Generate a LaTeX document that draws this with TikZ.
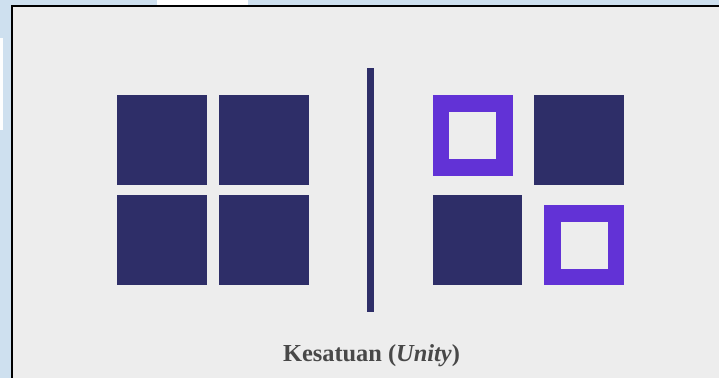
\documentclass[tikz,border=0pt]{standalone}
\usepackage{fontspec}
\setmainfont{Liberation Serif}
\definecolor{unityPage}{RGB}{206,224,239}
\definecolor{unityPanel}{RGB}{237,237,237}
\definecolor{unityNavy}{RGB}{46,46,104}
\definecolor{unityViolet}{RGB}{98,50,214}
\definecolor{unityText}{RGB}{72,72,72}
\begin{document}
\begin{tikzpicture}[x=1pt,y=-1pt,
      block/.style={fill=unityNavy},
      frame/.style={fill=unityViolet},
      hole/.style={fill=unityPanel},
      caption/.style={font=\fontsize{24.4}{28}\selectfont\bfseries,
        text=unityText, anchor=base}]
      \useasboundingbox (0,0) rectangle (719,378);
      \fill[unityPage] (0,0) rectangle (719,378);
      \fill[white] (157,0) rectangle (248,5);
      \fill[white!96!unityPage] (0,38) rectangle (2.5,130);
      \fill[black] (11,5) rectangle (719,378);
      \fill[unityPanel] (13.3,7.3) rectangle (719,378);

      % left: four equal blocks
      \foreach \bx in {117,219}{
        \foreach \by in {95,195}{
          \path[block] (\bx,\by) rectangle ++(90,90);}}

      \fill[unityNavy] (367.3,68) rectangle (374,312);

      % right: mixed blocks
      \path[frame] (432.5,94.5) rectangle (512.5,175.5);
      \path[hole] (449.3,111.5) rectangle (496,159);
      \path[block] (534,95.3) rectangle (624,185.3);
      \path[block] (432.5,195) rectangle (522.3,285);
      \path[frame] (544,205) rectangle (624,285);
      \path[hole] (560.5,221.7) rectangle (607.7,269);

      \node[caption] (label) at (371.5,361) {Kesatuan (\textit{Unity})};
    \end{tikzpicture}
\end{document}
